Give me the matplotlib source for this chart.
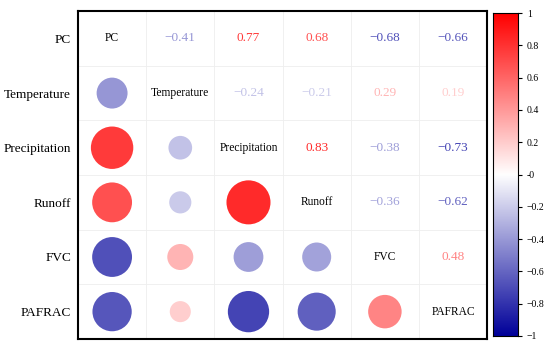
import matplotlib.pyplot as plt
import numpy as np
from matplotlib.colors import LinearSegmentedColormap

plt.rcParams['font.family'] = ['Liberation Serif', 'DejaVu Serif']

names = ['PC', 'Temperature', 'Precipitation', 'Runoff', 'FVC', 'PAFRAC']
# upper triangle of the correlation matrix, row by row
r_pc = [-0.41, 0.77, 0.68, -0.68, -0.66]
r_temp = [-0.24, -0.21, 0.29, 0.19]
r_precip = [0.83, -0.38, -0.73]
r_runoff = [-0.36, -0.62]
r_fvc = [0.48]

rows = [r_pc, r_temp, r_precip, r_runoff, r_fvc]
n = len(names)
corr = np.eye(n)
for i, vals in enumerate(rows):
    for k, v in enumerate(vals):
        j = i + 1 + k
        corr[i, j] = v
        corr[j, i] = v

cmap = LinearSegmentedColormap.from_list('bwr2', [(0, 0, 0.6), (1, 1, 1), (1, 0, 0)])

fig = plt.figure(figsize=(5.5, 3.48), dpi=100)
ax = fig.add_axes([0.1418, 0.026, 0.744, 0.942])
cax = fig.add_axes([0.896, 0.0345, 0.0455, 0.928])

ax.set_xlim(-0.5, n - 0.5)
ax.set_ylim(n - 0.5, -0.5)

# light grid between cells
for k in range(1, n):
    ax.axvline(k - 0.5, color='#eeeeee', lw=0.6, zorder=0)
    ax.axhline(k - 0.5, color='#eeeeee', lw=0.6, zorder=0)

for i in range(n):
    for j in range(n):
        v = corr[i, j]
        if i == j:
            ax.text(j, i, names[i], ha='center', va='center', fontsize=8.3, color='black')
        elif j > i:
            ax.text(j, i, '%.2f' % v if v >= 0 else '\u2212%.2f' % abs(v),
                    ha='center', va='center', fontsize=9.5,
                    color=cmap((v + 1) / 2))
        else:
            ax.scatter(j, i, s=1211 * abs(v), color=cmap((v + 1) / 2),
                       edgecolors='none', zorder=2)

ax.set_xticks([])
ax.set_yticks(range(n))
ax.set_yticklabels(names, fontsize=9.5)
ax.tick_params(axis='y', length=0, pad=5)
for sp in ax.spines.values():
    sp.set_linewidth(1.5)

grad = np.linspace(-1, 1, 256).reshape(-1, 1)
cax.imshow(grad, aspect='auto', cmap=cmap, origin='lower', extent=[0, 1, -1, 1])
cax.set_xticks([])
cax.yaxis.tick_right()
cticks = np.arange(-1, 1.01, 0.2)
cax.set_yticks(cticks)
cax.set_yticklabels(['%g' % round(t, 1) if t >= -1e-9 else '\u2212%g' % round(abs(t), 1)
                     for t in cticks], fontsize=7)
cax.tick_params(axis='y', length=3, width=0.8)
for sp in cax.spines.values():
    sp.set_linewidth(0.8)

fig.savefig('out.png', dpi=100)
